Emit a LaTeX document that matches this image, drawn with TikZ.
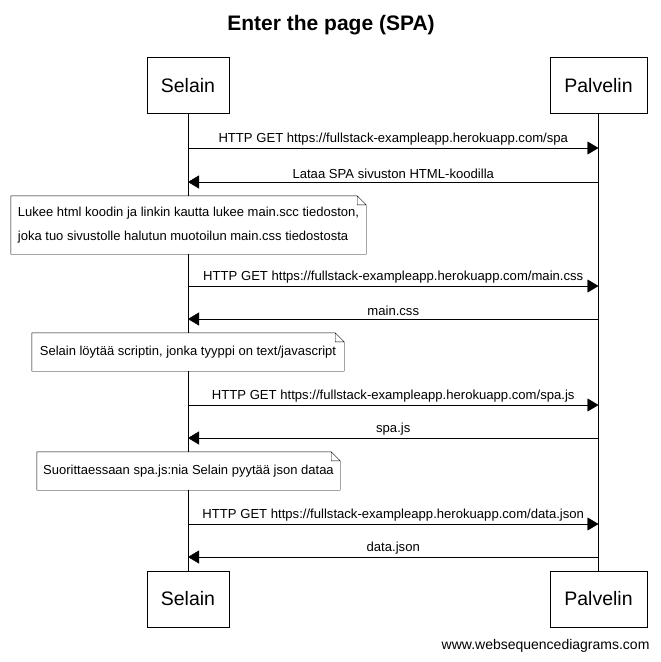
\documentclass[tikz,border=0pt]{standalone}
\usepackage{fontspec}
\setmainfont{Liberation Sans}
\usetikzlibrary{arrows.meta}
\begin{document}
\begin{tikzpicture}[x=1pt,y=-1pt,
                    actor/.style={draw,minimum height=56pt,
                                  font=\fontsize{19.5}{22}\selectfont},
                    msg/.style={above=-0.5pt,font=\fontsize{13.1}{15}\selectfont},
                    notebox/.style={fill=white,align=left,
                                    font=\fontsize{13}{24}\selectfont},
                    goto/.style={-{Triangle[length=11pt,width=13pt]}}]
\useasboundingbox (0,0) rectangle (661,662);
\node[font=\bfseries\fontsize{21}{24}\selectfont] (title) at (331,25) {Enter the page (SPA)};
% participants
\node[actor,minimum width=82pt] (s1) at (188,85.5) {Selain};
\node[actor,minimum width=97pt] (p1) at (598.5,85.5) {Palvelin};
\node[actor,minimum width=82pt] (s2) at (188,599) {Selain};
\node[actor,minimum width=97pt] (p2) at (598.5,599) {Palvelin};
\draw (s1) -- (s2);
\draw (p1) -- (p2);
% message ends on the lifelines
\foreach \n/\y in {a/148,b/182,c/286,d/319,e/405,f/438,g/524,h/557}{
  \coordinate (s\n) at (s1 |- 0,\y);
  \coordinate (p\n) at (p1 |- 0,\y);
}
\draw[goto] (sa) -- node[msg] {HTTP GET https://fullstack-exampleapp.herokuapp.com/spa} (pa);
\draw[goto] (pb) -- node[msg] {Lataa SPA sivuston HTML-koodilla} (sb);
\node[notebox,minimum height=58pt,minimum width=355pt] (n1) at (188.5,225)
  {Lukee html koodin ja linkin kautta lukee main.scc tiedoston,\\joka tuo sivustolle halutun muotoilun main.css tiedostosta};
\draw[goto] (sc) -- node[msg] {HTTP GET https://fullstack-exampleapp.herokuapp.com/main.css} (pc);
\draw[goto] (pd) -- node[msg] {main.css} (sd);
\node[notebox,minimum height=38pt,minimum width=312pt] (n2) at (188,352)
  {Selain löytää scriptin, jonka tyyppi on text/javascript};
\draw[goto] (se) -- node[msg] {HTTP GET https://fullstack-exampleapp.herokuapp.com/spa.js} (pe);
\draw[goto] (pf) -- node[msg] {spa.js} (sf);
\node[notebox,minimum height=38pt,minimum width=303pt] (n3) at (188.5,471)
  {Suorittaessaan spa.js:nia Selain pyytää json dataa};
\draw[goto] (sg) -- node[msg] {HTTP GET https://fullstack-exampleapp.herokuapp.com/data.json} (pg);
\draw[goto] (ph) -- node[msg] {data.json} (sh);
% folded corners of the notes
\foreach \n in {n1,n2,n3}
  \draw (\n.south west) -- (\n.north west) -- ([xshift=-9pt]\n.north east)
        -- ([yshift=-9pt]\n.north east) -- (\n.south east) -- cycle
        ([xshift=-9pt]\n.north east) |- ([yshift=-9pt]\n.north east);
\node[anchor=east,font=\fontsize{14}{16}\selectfont] (web) at (653,646) {www.websequencediagrams.com};
\end{tikzpicture}
\end{document}
